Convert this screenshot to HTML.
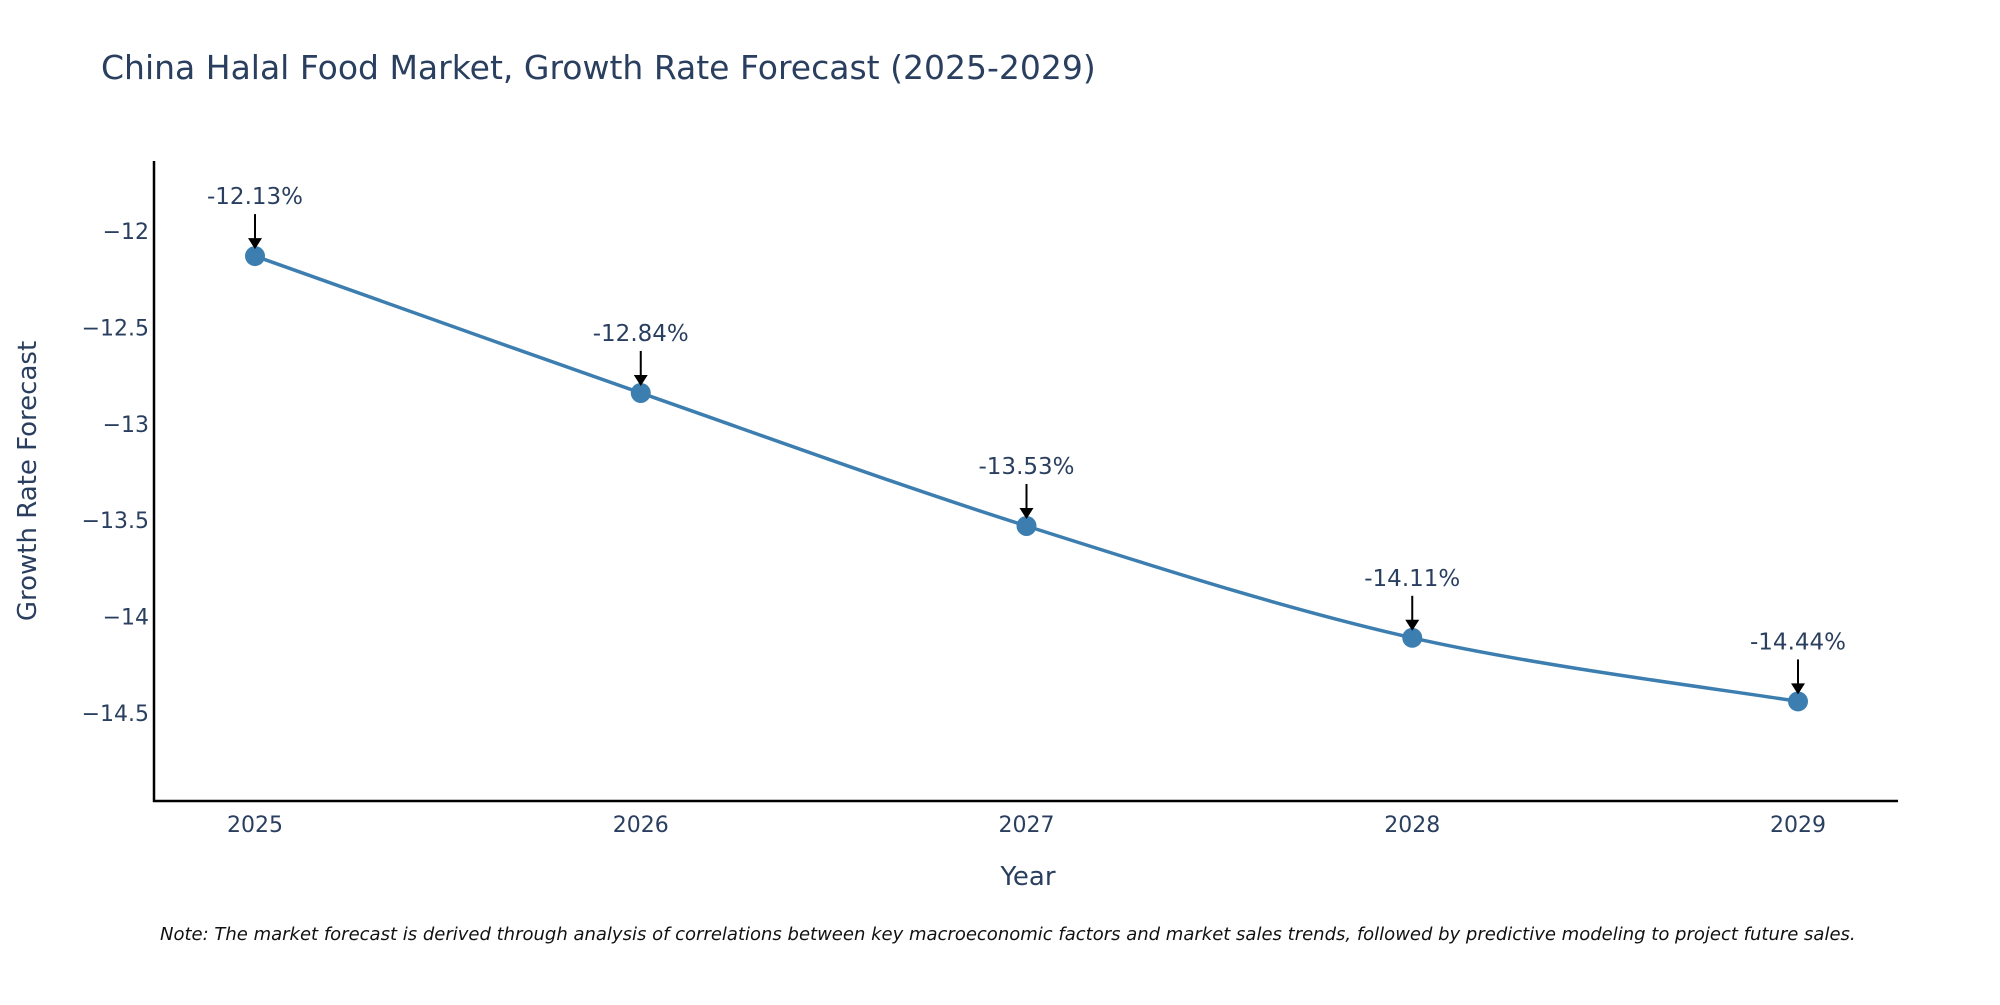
<!DOCTYPE html>
<html><head><meta charset="utf-8"><style>
body{margin:0;background:#fff;overflow:hidden;}
svg text{font-family:"DejaVu Sans","Liberation Sans",sans-serif;fill:#2a3f5f;}
</style></head><body>
<svg id="chart" width="2000" height="1000" xmlns="http://www.w3.org/2000/svg">
<text x="101" y="79" font-size="33">China Halal Food Market, Growth Rate Forecast (2025-2029)</text>
<line x1="154" y1="161" x2="154" y2="802" stroke="#000" stroke-width="2.5"/>
<line x1="153" y1="801" x2="1898" y2="801" stroke="#000" stroke-width="2.5"/>
<g id="yticks"></g><g id="xticks"></g>
<path id="line" fill="none" stroke="#3d7eb0" stroke-width="3.5"/>
<g id="points"></g>
<text x="1028" y="885" font-size="26" text-anchor="middle">Year</text>
<text transform="translate(36,481) rotate(-90)" font-size="26" text-anchor="middle">Growth Rate Forecast</text>
<text x="160" y="940" font-size="18" font-style="italic" style="fill:#111">Note: The market forecast is derived through analysis of correlations between key macroeconomic factors and market sales trends, followed by predictive modeling to project future sales.</text>
</svg>
<script>
const years=[2025,2026,2027,2028,2029];
const values=[-12.13,-12.84,-13.53,-14.11,-14.44];
const labels=["-12.13%","-12.84%","-13.53%","-14.11%","-14.44%"];
const yTicks=[-12,-12.5,-13,-13.5,-14,-14.5];
const yTickLabels=["\u221212","\u221212.5","\u221213","\u221213.5","\u221214","\u221214.5"];
const NS="http://www.w3.org/2000/svg";
function xs(v){return 255+(v-2025)*(1798-255)/4;}
function ys(v){return 231+(-12-v)*(713-231)/2.5;}
function mk(tag,attrs,parent){const e=document.createElementNS(NS,tag);for(const k in attrs)e.setAttribute(k,attrs[k]);parent.appendChild(e);return e;}
const yt=document.getElementById('yticks');
yTicks.forEach((t,i)=>{const e=mk('text',{x:149,y:ys(t)+8,'font-size':22,'text-anchor':'end'},yt);e.textContent=yTickLabels[i];

});
const xt=document.getElementById('xticks');
years.forEach(y=>{const e=mk('text',{x:xs(y),y:832,'font-size':22,'text-anchor':'middle'},xt);e.textContent=y;

});
const P=years.map((y,i)=>[xs(y),ys(values[i])]);
let d='M'+P[0][0]+','+P[0][1];
for(let i=0;i<P.length-1;i++){const p0=P[Math.max(0,i-1)],p1=P[i],p2=P[i+1],p3=P[Math.min(P.length-1,i+2)];
const c1=[p1[0]+(p2[0]-p0[0])/6,p1[1]+(p2[1]-p0[1])/6],c2=[p2[0]-(p3[0]-p1[0])/6,p2[1]-(p3[1]-p1[1])/6];
d+=' C'+c1+' '+c2+' '+p2;}
document.getElementById('line').setAttribute('d',d);
const pts=document.getElementById('points');
P.forEach((p,i)=>{
const c=mk('circle',{cx:p[0],cy:p[1],r:10,fill:'#3d7eb0'},pts);


const l=mk('line',{x1:p[0],y1:p[1]-42,x2:p[0],y2:p[1]-16,stroke:'#000','stroke-width':2},pts);


const a=mk('polygon',{points:`${p[0]-7},${p[1]-18} ${p[0]+7},${p[1]-18} ${p[0]},${p[1]-7}`,fill:'#000'},pts);


const t=mk('text',{x:p[0],y:p[1]-52,'font-size':23,'text-anchor':'middle'},pts);t.textContent=labels[i];


});
</script>
</body></html>
